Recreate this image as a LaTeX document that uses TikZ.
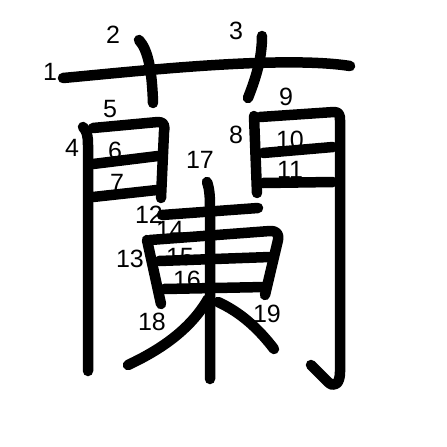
\documentclass[tikz,border=0pt]{standalone}
\usepackage{fontspec}
\setmainfont{Liberation Sans}
\begin{document}
\begin{tikzpicture}[x=1pt,y=-1pt,
  stroke/.style={line width=10.5pt,line cap=round,line join=round},
  num/.style={inner sep=0pt,font=\fontsize{25}{25}\selectfont}]
\useasboundingbox (0,0) rectangle (447,447);
% labels
\node[num] (l1) at (50,72) {1};
\node[num] (l2) at (113,35) {2};
\node[num] (l3) at (236,31) {3};
\node[num] (l4) at (72,148) {4};
\node[num] (l5) at (110,109) {5};
\node[num] (l6) at (115,151) {6};
\node[num] (l7) at (117,183) {7};
\node[num] (l8) at (236,135) {8};
\node[num] (l9) at (286,97) {9};
\node[num] (l10) at (290,140) {10};
\node[num] (l11) at (290,170) {11};
\node[num] (l12) at (149,215) {12};
\node[num] (l13) at (130,259) {13};
\node[num] (l14) at (170,230) {14};
\node[num] (l15) at (180,257) {15};
\node[num] (l16) at (187,280) {16};
\node[num] (l17) at (200,160) {17};
\node[num] (l18) at (152,322) {18};
\node[num] (l19) at (267,314) {19};
% strokes
\draw[stroke] (63,78) .. controls (130,72) and (280,55) .. (350,66);
\draw[stroke] (139,40) .. controls (148,50) and (152,70) .. (153,103);
\draw[stroke] (262,36) .. controls (262,60) and (255,80) .. (248,98);
\draw[stroke] (83,127) .. controls (87,131) and (88,136) .. (88,145) -- (88,371);
\draw[stroke] (93,128) -- (158,122) .. controls (164,122) and (165,125) .. (164,132) -- (161,198);
\draw[stroke] (93,164) -- (158,156);
\draw[stroke] (93,197) -- (157,190);
\draw[stroke] (254,116) -- (257,193);
\draw[stroke] (260,117) -- (334,112) .. controls (339,112) and (340,115) .. (340,120) -- (340,372) .. controls (340,384) and (334,388) .. (328,382) -- (311,365);
\draw[stroke] (263,153) -- (333,147);
\draw[stroke] (263,183) -- (333,182);
\draw[stroke] (162,215) -- (258,208);
\draw[stroke] (147,240) -- (161,304);
\draw[stroke] (150,240) -- (270,231) .. controls (277,231) and (279,234) .. (278,240) -- (265,295);
\draw[stroke] (159,261) -- (270,257);
\draw[stroke] (164,289) -- (265,287);
\draw[stroke] (207,182) .. controls (210,190) and (210,200) .. (210,210) -- (210,379);
\draw[stroke] (208,299) .. controls (190,330) and (160,350) .. (128,365);
\draw[stroke] (218,302) .. controls (240,312) and (258,328) .. (274,349);
\end{tikzpicture}
\end{document}
